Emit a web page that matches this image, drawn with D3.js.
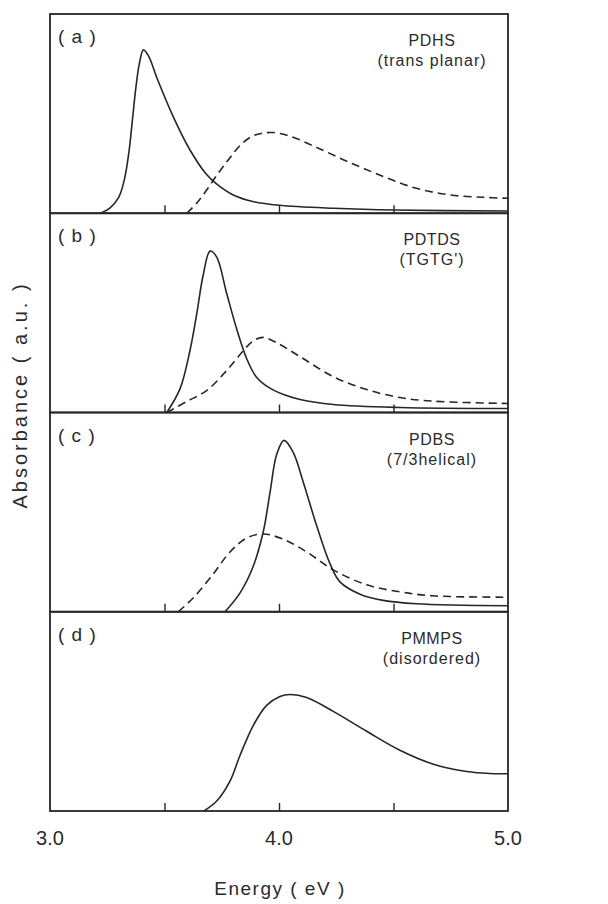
<!DOCTYPE html>
<html>
<head>
<meta charset="utf-8">
<script src="https://cdn.jsdelivr.net/npm/d3@7"></script>
<style>
  html, body { margin: 0; padding: 0; background: #ffffff; }
  svg { display: block; }
  text { font-family: "Liberation Sans", Arial, Helvetica, sans-serif; fill: #2b2b2b; }
</style>
</head>
<body>
<svg id="chart" width="608" height="904"></svg>
<script>
// ---------------- data ----------------
const panelIds = ["a", "b", "c", "d"];
const polymerNames = ["PDHS", "PDTDS", "PDBS", "PMMPS"];
const conformations = ["(trans  planar)", "(TGTG')", "(7/3helical)", "(disordered)"];
const xTickValues = [3.0, 3.5, 4.0, 4.5, 5.0];
const xTickLabels = ["3.0", "4.0", "5.0"];
const xTickLabelValues = [3.0, 4.0, 5.0];
const xTitle = "Energy ( eV )";
const yTitle = "Absorbance ( a.u. )";

// [energy (eV), absorbance (a.u.)]
const aSolid = [[3.22,0],[3.26,0.025],[3.30,0.08],[3.325,0.17],[3.345,0.31],[3.36,0.47],[3.375,0.63],[3.39,0.75],[3.408,0.82],[3.43,0.79],[3.47,0.67],[3.54,0.48],[3.61,0.32],[3.68,0.20],[3.73,0.145],[3.80,0.092],[3.89,0.058],[4.00,0.04],[4.24,0.025],[4.50,0.016],[5.00,0.011]];
const aDashed = [[3.597,0],[3.64,0.05],[3.68,0.11],[3.728,0.19],[3.78,0.27],[3.83,0.34],[3.88,0.385],[3.93,0.402],[3.975,0.405],[4.048,0.387],[4.165,0.33],[4.31,0.254],[4.455,0.185],[4.60,0.125],[4.747,0.092],[4.892,0.08],[5.00,0.075]];
const bSolid = [[3.51,0],[3.568,0.12],[3.611,0.31],[3.640,0.49],[3.669,0.69],[3.699,0.81],[3.728,0.78],[3.771,0.60],[3.815,0.42],[3.859,0.27],[3.90,0.18],[3.95,0.13],[4.02,0.09],[4.092,0.065],[4.237,0.04],[4.528,0.025],[5.00,0.02]];
const bDashed = [[3.51,0],[3.597,0.055],[3.684,0.11],[3.771,0.21],[3.844,0.31],[3.888,0.36],[3.931,0.377],[3.99,0.35],[4.092,0.28],[4.237,0.18],[4.383,0.115],[4.528,0.075],[4.672,0.057],[5.00,0.045]];
const cSolid = [[3.764,0],[3.83,0.095],[3.888,0.23],[3.931,0.40],[3.961,0.60],[3.99,0.79],[4.022,0.86],[4.062,0.80],[4.106,0.65],[4.165,0.43],[4.223,0.24],[4.266,0.15],[4.354,0.088],[4.455,0.057],[4.60,0.04],[5.00,0.03]];
const cDashed = [[3.56,0],[3.626,0.07],[3.713,0.19],[3.786,0.30],[3.859,0.37],[3.931,0.39],[4.019,0.364],[4.121,0.30],[4.237,0.21],[4.383,0.135],[4.528,0.10],[4.672,0.08],[5.00,0.073]];
const dSolid = [[3.672,0],[3.728,0.05],[3.786,0.15],[3.83,0.28],[3.888,0.43],[3.946,0.53],[4.004,0.575],[4.048,0.585],[4.121,0.57],[4.237,0.50],[4.383,0.40],[4.528,0.305],[4.674,0.235],[4.82,0.198],[4.92,0.188],[5.00,0.187]];
const dDashed = [];

const solidSeries = [aSolid, bSolid, cSolid, dSolid];
const dashedSeries = [aDashed, bDashed, cDashed, dDashed];

// ---------------- layout ----------------
const plotLeft = 50, plotRight = 508, plotTop = 14, plotBottom = 811;
const nPanels = panelIds.length;
const panelH = (plotBottom - plotTop) / nPanels;
const ink = "#262626";

const svg = d3.select("#chart");
const x = d3.scaleLinear().domain([3.0, 5.0]).range([plotLeft, plotRight]);

panelIds.forEach((id, i) => {
  const y0 = plotTop + i * panelH;
  const y1 = y0 + panelH;
  const y = d3.scaleLinear().domain([0, 1]).range([y1, y0]);
  const g = svg.append("g");

  // ticks (inward)
  const ax = d3.axisBottom(x).tickValues(xTickValues.slice(1, -1)).tickSize(-8).tickFormat("");
  const axG = g.append("g").attr("transform", `translate(0,${y1})`).call(ax);
  axG.select(".domain").remove();
  axG.selectAll(".tick line").attr("stroke", ink).attr("stroke-width", 1.4);

  // frame
  g.append("rect")
    .attr("x", plotLeft).attr("y", y0)
    .attr("width", plotRight - plotLeft).attr("height", panelH)
    .attr("fill", "none").attr("stroke", ink).attr("stroke-width", 1.8);

  const line = d3.line().x(d => x(d[0])).y(d => y(Math.max(0, d[1]))).curve(d3.curveCatmullRom.alpha(0.5));

  if (dashedSeries[i].length) {
    g.append("path").datum(dashedSeries[i])
      .attr("d", line).attr("fill", "none")
      .attr("stroke", ink).attr("stroke-width", 1.6)
      .attr("stroke-dasharray", "8,5");
  }
  g.append("path").datum(solidSeries[i])
    .attr("d", line).attr("fill", "none")
    .attr("stroke", ink).attr("stroke-width", 1.6);

  // panel label
  g.append("text").attr("x", 58).attr("y", y0 + 29)
    .attr("font-size", 19).attr("letter-spacing", 1)
    .text(`( ${id} )`);

  // polymer name and conformation
  g.append("text").attr("x", 432).attr("y", y0 + 32)
    .attr("text-anchor", "middle").attr("font-size", 16)
    .attr("letter-spacing", 0.6)
    .text(polymerNames[i]);
  g.append("text").attr("x", 432).attr("y", y0 + 52)
    .attr("text-anchor", "middle").attr("font-size", 16)
    .attr("letter-spacing", 1)
    .text(conformations[i]);
});

// tick labels below bottom panel
xTickLabelValues.forEach((v, i) => {
  svg.append("text")
    .attr("x", x(v)).attr("y", 845)
    .attr("text-anchor", "middle").attr("font-size", 20)
    .text(xTickLabels[i]);
});

// axis titles
svg.append("text")
  .attr("x", 280).attr("y", 895)
  .attr("text-anchor", "middle").attr("font-size", 19)
  .attr("letter-spacing", 1.5)
  .text(xTitle);

svg.append("text")
  .attr("transform", "translate(27,395) rotate(-90)")
  .attr("text-anchor", "middle").attr("font-size", 20)
  .attr("letter-spacing", 3)
  .text(yTitle);
</script>
</body>
</html>
